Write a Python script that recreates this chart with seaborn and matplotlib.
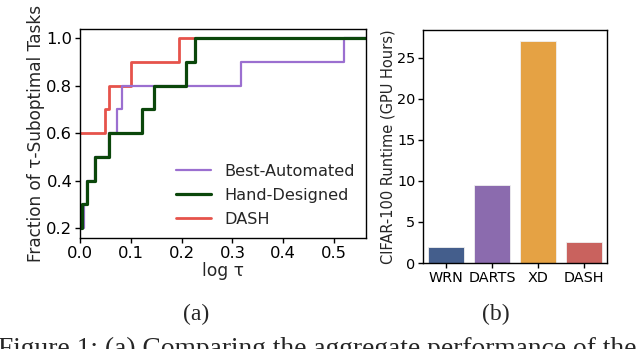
import matplotlib
matplotlib.use("Agg")
import matplotlib.pyplot as plt
import seaborn as sns
import pandas as pd

# ---- data: performance profile (a) ----
tau_best = [0.0, 0.008, 0.014, 0.030, 0.057, 0.072, 0.082, 0.316, 0.520, 0.563]
frac_best = [0.2, 0.3, 0.4, 0.5, 0.6, 0.7, 0.8, 0.9, 1.0, 1.0]
tau_hand = [0.0, 0.004, 0.014, 0.030, 0.057, 0.122, 0.146, 0.209, 0.226, 0.563]
frac_hand = [0.2, 0.3, 0.4, 0.5, 0.6, 0.7, 0.8, 0.9, 1.0, 1.0]
tau_dash = [0.0, 0.050, 0.057, 0.100, 0.195, 0.563]
frac_dash = [0.6, 0.7, 0.8, 0.9, 1.0, 1.0]
series_names = ["Best-Automated", "Hand-Designed", "DASH"]

# ---- data: runtime bars (b) ----
methods = ["WRN", "DARTS", "XD", "DASH"]
runtime_hours = [2.0, 9.5, 27.0, 2.6]

sns.set_style("ticks")
plt.rcParams["font.family"] = ["DejaVu Sans"]
plt.rcParams["axes.edgecolor"] = "black"
plt.rcParams["axes.linewidth"] = 1.0
plt.rcParams["xtick.color"] = "black"
plt.rcParams["ytick.color"] = "black"

fig = plt.figure(figsize=(6.4, 3.49), dpi=100)

# ---------- (a) ----------
ax1 = fig.add_axes([0.125, 0.318, 0.447, 0.599])
colors = {"Best-Automated": "#9b6fd0", "Hand-Designed": "#0b470b", "DASH": "#e6534b"}
widths = {"Best-Automated": 1.6, "Hand-Designed": 2.3, "DASH": 2.0}
df_dash = pd.DataFrame({"tau": tau_dash, "frac": frac_dash})
df_best = pd.DataFrame({"tau": tau_best, "frac": frac_best})
df_hand = pd.DataFrame({"tau": tau_hand, "frac": frac_hand})
sns.lineplot(data=df_dash, x="tau", y="frac", ax=ax1, drawstyle="steps-post",
             color=colors["DASH"], lw=widths["DASH"], label="DASH", estimator=None, sort=False)
sns.lineplot(data=df_best, x="tau", y="frac", ax=ax1, drawstyle="steps-post",
             color=colors["Best-Automated"], lw=widths["Best-Automated"], label="Best-Automated",
             estimator=None, sort=False)
sns.lineplot(data=df_hand, x="tau", y="frac", ax=ax1, drawstyle="steps-post",
             color=colors["Hand-Designed"], lw=widths["Hand-Designed"], label="Hand-Designed",
             estimator=None, sort=False)
ax1.set_xlim(0, 0.563)
ax1.set_ylim(0.158, 1.038)
ax1.set_xticks([0.0, 0.1, 0.2, 0.3, 0.4, 0.5])
ax1.set_yticks([0.2, 0.4, 0.6, 0.8, 1.0])
ax1.tick_params(labelsize=11.8, length=3.5, width=1.0, pad=2)
ax1.set_xlabel("log τ", fontsize=12.3, labelpad=1)
ax1.set_ylabel("Fraction of τ-Suboptimal Tasks", fontsize=12.2, labelpad=1)
handles, labels = ax1.get_legend_handles_labels()
order = [labels.index(n) for n in series_names]
ax1.legend([handles[i] for i in order], [labels[i] for i in order],
           loc="lower right", frameon=False, fontsize=11.6, handlelength=2.2,
           labelspacing=0.55, borderaxespad=0.3, bbox_to_anchor=(1.0, 0.0))

# ---------- (b) ----------
ax2 = fig.add_axes([0.661, 0.2464, 0.2875, 0.6676])
bar_colors = ["#445e8c", "#8b6bae", "#e5a244", "#c9625e"]
df_bar = pd.DataFrame({"method": methods, "hours": runtime_hours})
sns.barplot(data=df_bar, x="method", y="hours", hue="method", palette=bar_colors,
            saturation=1, ax=ax2, legend=False, edgecolor="#f0f0f0", linewidth=0.6, width=0.8)
ax2.set_ylim(0, 28.35)
ax2.set_yticks([0, 5, 10, 15, 20, 25])
ax2.tick_params(labelsize=10.4, length=3.5, width=1.0, pad=2)
ax2.set_xlabel("")
ax2.set_ylabel("CIFAR-100 Runtime (GPU Hours)", fontsize=10.5, labelpad=1)

# ---------- captions ----------
serif = ["Liberation Serif", "DejaVu Serif"]
fig.text(196 / 640, 1 - 314 / 349, "(a)", ha="center", va="center", fontsize=17, family=serif)
fig.text(496 / 640, 1 - 314 / 349, "(b)", ha="center", va="center", fontsize=17, family=serif)
fig.text(-2 / 640, 1 - 337 / 349, "Figure 1: (a) Comparing the aggregate performance of the",
         ha="left", va="top", fontsize=19.8, family=serif)

fig.savefig("out.png", dpi=100)
